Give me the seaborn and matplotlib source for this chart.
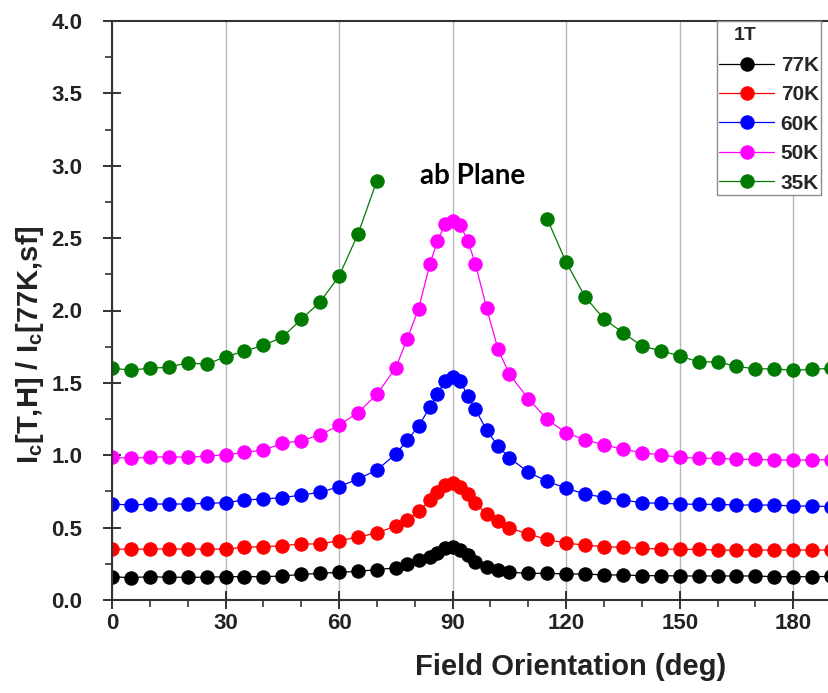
import numpy as np
import matplotlib
matplotlib.use("Agg")
import matplotlib.pyplot as plt
from matplotlib.ticker import MultipleLocator, FormatStrFormatter
import seaborn as sns

# Field orientation angles (deg): coarse wings, denser sampling around the ab plane
angles = [0, 5, 10, 15, 20, 25, 30, 35, 40, 45, 50, 55, 60, 65, 70,
          75, 78, 81, 84, 86, 88, 90, 92, 94, 96, 99, 102, 105,
          110, 115, 120, 125, 130, 135, 140, 145, 150, 155, 160, 165,
          170, 175, 180, 185, 190]

# Normalised critical current Ic[T,H] / Ic[77K,sf] at 1 T
ic_77K = [0.161, 0.154, 0.161, 0.157, 0.157, 0.157, 0.161, 0.161, 0.161, 0.166,
          0.177, 0.184, 0.191, 0.198, 0.210,
          0.222, 0.249, 0.276, 0.299, 0.327, 0.357, 0.368, 0.345, 0.311, 0.260,
          0.228, 0.208, 0.192,
          0.184, 0.184, 0.180, 0.180, 0.173, 0.173, 0.168, 0.168, 0.166, 0.166,
          0.166, 0.166, 0.166, 0.161, 0.161, 0.161, 0.163]

ic_70K = [0.352, 0.350, 0.352, 0.352, 0.352, 0.352, 0.352, 0.364, 0.368, 0.375,
          0.387, 0.387, 0.410, 0.435, 0.463,
          0.512, 0.553, 0.612, 0.691, 0.748, 0.794, 0.808, 0.780, 0.732, 0.670,
          0.593, 0.543, 0.497,
          0.455, 0.419, 0.392, 0.380, 0.368, 0.364, 0.357, 0.352, 0.350, 0.350,
          0.345, 0.345, 0.345, 0.345, 0.345, 0.345, 0.345]

ic_60K = [0.663, 0.656, 0.663, 0.663, 0.663, 0.668, 0.672, 0.691, 0.698, 0.707,
          0.725, 0.744, 0.783, 0.836, 0.898,
          1.009, 1.103, 1.202, 1.331, 1.423, 1.515, 1.543, 1.515, 1.409, 1.317,
          1.174, 1.063, 0.983,
          0.883, 0.820, 0.772, 0.732, 0.709, 0.691, 0.672, 0.668, 0.663, 0.661,
          0.661, 0.656, 0.656, 0.656, 0.649, 0.649, 0.645]

ic_50K = [0.986, 0.979, 0.986, 0.990, 0.986, 0.995, 1.002, 1.020, 1.036, 1.082,
          1.101, 1.140, 1.209, 1.294, 1.421,
          1.606, 1.803, 2.012, 2.321, 2.482, 2.595, 2.617, 2.591, 2.482, 2.324,
          2.015, 1.732, 1.561,
          1.390, 1.248, 1.154, 1.108, 1.071, 1.042, 1.018, 1.002, 0.986, 0.979,
          0.979, 0.972, 0.972, 0.967, 0.967, 0.967, 0.970]

# 35 K: no data between 75 and 110 deg
nan = float("nan")
ic_35K = [1.601, 1.589, 1.601, 1.608, 1.639, 1.628, 1.681, 1.718, 1.760, 1.815,
          1.939, 2.059, 2.238, 2.528, 2.897,
          nan, nan, nan, nan, nan, nan, nan, nan, nan, nan, nan, nan, nan,
          nan, 2.632, 2.333, 2.095, 1.941, 1.847, 1.755, 1.722, 1.686, 1.645,
          1.645, 1.614, 1.597, 1.597, 1.586, 1.594, 1.600]

temps = ["77K", "70K", "60K", "50K", "35K"]
curves = [ic_77K, ic_70K, ic_60K, ic_50K, ic_35K]
colors = ["#000000", "#ff0000", "#0000ff", "#ff00ff", "#007a00"]

sns.set_theme(style="ticks")
plt.rcParams.update({
    "font.family": ["Liberation Sans", "DejaVu Sans"],
    "font.weight": "bold",
    "axes.labelweight": "bold",
    "mathtext.fontset": "custom",
    "mathtext.rm": "Liberation Sans:bold",
    "mathtext.it": "Liberation Sans:bold",
    "mathtext.bf": "Liberation Sans:bold",
})

W, H = 829, 693
fig = plt.figure(figsize=(W / 100, H / 100), dpi=100)
ax = fig.add_axes([112 / W, 1 - 600 / H, 1 - 112 / W, (600 - 21) / H])

x_all = np.array(angles, dtype=float)
for label, vals, color in zip(temps, curves, colors):
    y_all = np.array(vals, dtype=float)
    valid = ~np.isnan(y_all)
    cuts = np.flatnonzero(np.diff(valid.astype(int)) != 0) + 1
    first = True
    for idx in np.split(np.arange(len(x_all)), cuts):
        if not valid[idx[0]]:
            continue
        sns.lineplot(x=x_all[idx], y=y_all[idx], ax=ax, color=color,
                     marker="o", markersize=9.6, markeredgecolor=color,
                     markeredgewidth=0.8, linewidth=0.9,
                     label=label if first else None, legend=False)
        first = False

ax.set_xlim(0, 189.45)
ax.set_ylim(0, 4.0)
ax.set_xticks(range(0, 181, 30))
ax.xaxis.set_minor_locator(MultipleLocator(10))
ax.yaxis.set_major_locator(MultipleLocator(0.5))
ax.yaxis.set_minor_locator(MultipleLocator(0.25))
ax.yaxis.set_major_formatter(FormatStrFormatter("%.1f"))

ax.grid(axis="x", which="major", color="#b8b8b8", linewidth=1.0)
ax.set_axisbelow(True)

for side in ["left", "bottom", "top"]:
    ax.spines[side].set_color("#333333")
    ax.spines[side].set_linewidth(1.5)
ax.spines["right"].set_visible(False)

ax.tick_params(which="major", direction="inout", length=13, width=1.3,
               labelsize=16, colors="#222222", labelcolor="#222222")
ax.tick_params(axis="x", which="major", pad=3)
ax.tick_params(axis="y", which="major", pad=15)
ax.tick_params(which="minor", direction="out", length=5, width=1.1,
               colors="#222222")
ax.tick_params(top=False, right=False, which="both")

ax.set_xlabel("Field Orientation (deg)", fontsize=21, color="#222222")
ax.xaxis.label.set_va("center")
ax.xaxis.set_label_coords((571 - 112) / 717, -(667 - 600) / 579)
ax.set_ylabel(r"I$_\mathregular{c}$[T,H] / I$_\mathregular{c}$[77K,sf]",
              fontsize=21, color="#222222")
ax.yaxis.label.set_va("center")
ax.yaxis.set_label_coords((30 - 112) / 717, (600 - 345) / 579)

ax.text(95.3, 2.93, "ab Plane", ha="center", va="center", fontsize=20,
        fontweight="bold", family=["Lato", "DejaVu Sans"], color="black")

handles, labels = ax.get_legend_handles_labels()
leg = ax.legend(handles, labels, title="1T", loc="upper left",
                bbox_to_anchor=(0.8434, 1.0), borderaxespad=0,
                frameon=True, fancybox=False, framealpha=1,
                edgecolor="#8c8c8c", fontsize=15,
                title_fontproperties={"weight": "bold", "size": 14},
                handlelength=2.65, handletextpad=0.3, borderpad=0.12,
                labelspacing=0.5, alignment="left")
leg.get_frame().set_linewidth(1.0)
# extra room between the "1T" title and the first entry
leg._legend_box.sep = leg._legend_box.sep + 3.6
leg.get_title().set_position((15, -4))

fig.savefig("out.png", dpi=100)
